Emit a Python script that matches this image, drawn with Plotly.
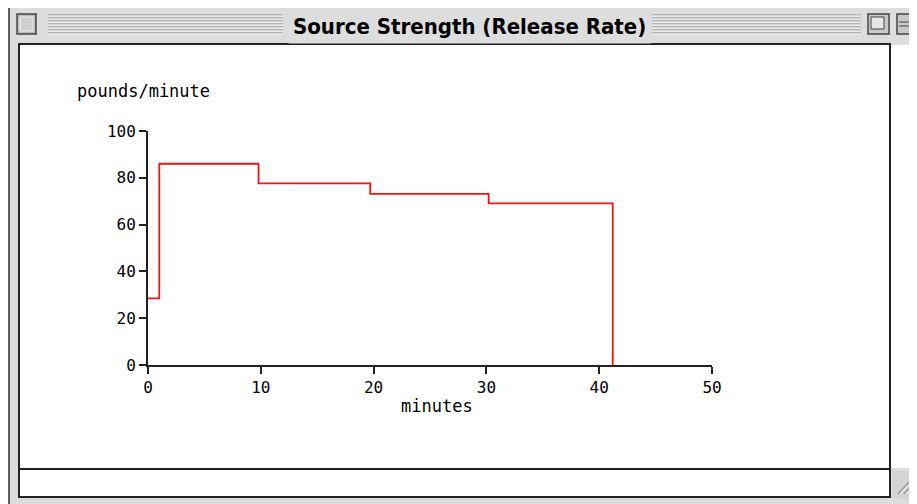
import plotly.graph_objects as go

# ── data ──────────────────────────────────────
minutes = [0, 1.0, 9.8, 19.7, 30.2, 41.2]
rate    = [28.5, 86.0, 77.6, 73.1, 69.1, 0.0]

x_ticks = [0, 10, 20, 30, 40, 50]
y_ticks = [0, 20, 40, 60, 80, 100]

title_text = "Source Strength (Release Rate)"
x_label    = "minutes"
y_label    = "pounds/minute"

# ── page geometry (pixels in the browser window) ──
# the page body has an 8px margin, so the figure itself starts at (8, 8)
OFF = 8
W, H = 917 - OFF, 504 - OFF
L, R, T, B = 148, 712, 131, 365   # plot area edges, window pixels


def px(x):
    return (x - L) / (R - L)


def py(y):
    return (B - y) / (B - T)


def rect(x0, y0, x1, y1, fill, line="rgba(0,0,0,0)", lw=0):
    return dict(type="rect", xref="paper", yref="paper",
                x0=px(x0), x1=px(x1), y0=py(y1), y1=py(y0),
                fillcolor=fill, line=dict(color=line, width=lw), layer="below")


def seg(x0, y0, x1, y1, color, lw=1):
    return dict(type="line", xref="paper", yref="paper",
                x0=px(x0), x1=px(x1), y0=py(y0), y1=py(y1),
                line=dict(color=color, width=lw))


fig = go.Figure()
fig.add_trace(go.Scatter(
    x=minutes, y=rate,
    mode="lines",
    line=dict(color="#F01414", width=1.8, shape="hv"),
    showlegend=False,
    hoverinfo="skip",
))

mono = "DejaVu Sans Mono"

# ── window chrome ─────────────────────────────
shapes = []
shapes.append(rect(9, 7, 930, 510, "#DDDDDD", "#000000", 1.2))   # frame
shapes.append(rect(19, 44, 890, 469, "#FFFFFF", "#222222", 2))    # content
shapes.append(rect(891, 45, 915, 468, "#FFFFFF"))                 # scrollbar
shapes.append(seg(916, 44, 916, 469, "#777777", 1))
shapes.append(rect(19, 469, 890, 497, "#FFFFFF", "#222222", 2))   # status strip
shapes.append(seg(890, 44, 890, 497, "#222222", 2))
shapes.append(rect(892, 471, 917, 499, "#D4D4D4"))                # grow box
for k in range(3):
    o = k * 6
    shapes.append(seg(898 + o, 494, 910 + o, 481, "#999999", 1.5))
    shapes.append(seg(900 + o, 494, 912 + o, 481, "#FFFFFF", 1))

# title bar stripes
for yy in range(15, 35, 3):
    shapes.append(seg(48, yy, 283, yy, "#8A8A8A", 1))
    shapes.append(seg(48, yy + 1, 283, yy + 1, "#F8F8F8", 1))
    shapes.append(seg(652, yy, 861, yy, "#8A8A8A", 1))
    shapes.append(seg(652, yy + 1, 861, yy + 1, "#F8F8F8", 1))

# close / zoom / collapse boxes
shapes.append(rect(17, 14, 36, 34, "#BBBBBB", "#444444", 1.5))
shapes.append(rect(20, 17, 33, 31, "#CFCFCF", "#F4F4F4", 1))
shapes.append(rect(868, 14, 889, 34, "#C8C8C8", "#444444", 1.5))
shapes.append(rect(871, 17, 884, 29, "#E8E8E8", "#444444", 1))
shapes.append(rect(897, 14, 920, 34, "#C8C8C8", "#444444", 1.5))
shapes.append(seg(899, 22, 920, 22, "#444444", 1))
shapes.append(seg(899, 26, 920, 26, "#444444", 1))

annotations = [
    dict(text="<b>" + title_text + "</b>", xref="paper", yref="paper",
         x=px(469), y=py(26), showarrow=False,
         font=dict(family="DejaVu Sans Condensed, DejaVu Sans", size=22, color="#000000"),
         xanchor="center", yanchor="middle", bgcolor="#DDDDDD", borderpad=4),
    dict(text=y_label, xref="paper", yref="paper",
         x=px(75), y=py(91), showarrow=False,
         font=dict(family=mono, size=17, color="#000000"),
         xanchor="left", yanchor="middle"),
    dict(text=x_label, xref="paper", yref="paper",
         x=px(437), y=py(406), showarrow=False,
         font=dict(family=mono, size=17, color="#000000"),
         xanchor="center", yanchor="middle"),
]

fig.update_layout(
    width=W, height=H,
    margin=dict(l=L - OFF, r=W - (R - OFF), t=T - OFF, b=H - (B - OFF)),
    paper_bgcolor="#FFFFFF",
    plot_bgcolor="#FFFFFF",
    shapes=shapes,
    annotations=annotations,
    font=dict(family=mono, size=16, color="#000000"),
)

axis_common = dict(
    showgrid=False, zeroline=False,
    showline=True, linecolor="#222222", linewidth=2,
    ticks="outside", ticklen=7, tickwidth=2, tickcolor="#222222",
    tickfont=dict(family=mono, size=16, color="#000000"),
    fixedrange=True,
)
fig.update_xaxes(range=[0, 50], tickvals=x_ticks, **axis_common)
fig.update_yaxes(range=[0, 100], tickvals=y_ticks, **axis_common)

fig.write_html("out.html")
